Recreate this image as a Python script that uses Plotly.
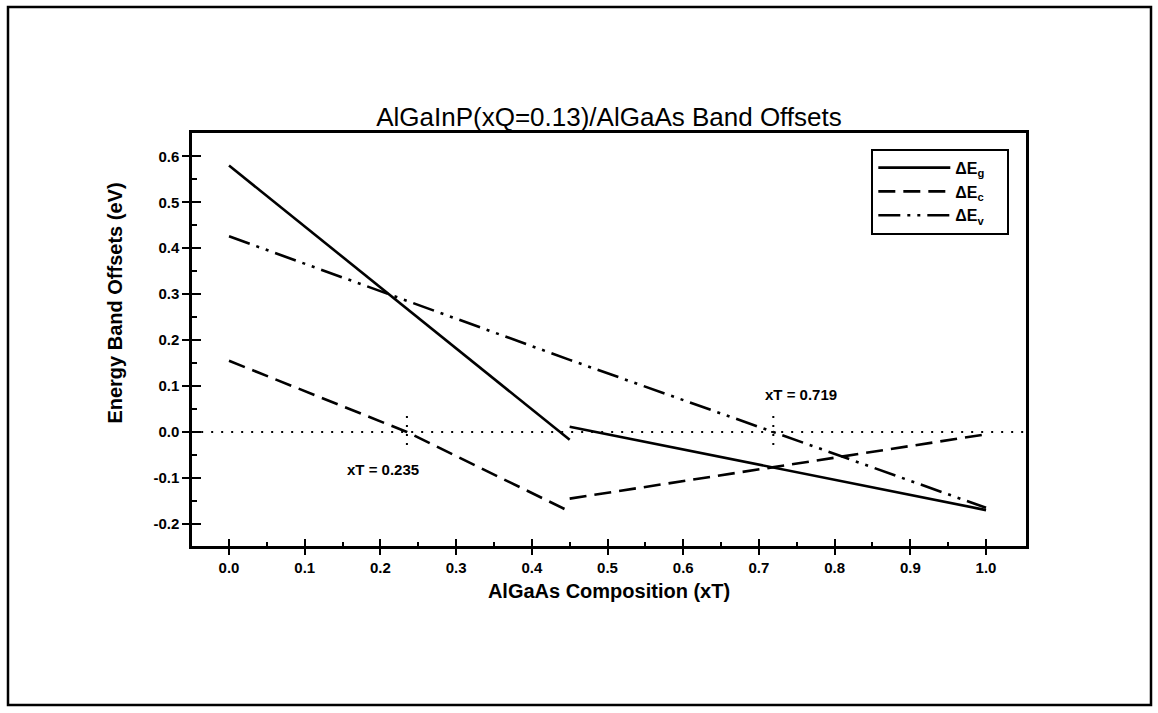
import plotly.graph_objects as go

# AlGaAs composition (xT) and band offsets (eV) on either side of the
# direct/indirect crossover at xT = 0.45
xt_direct = [0.0, 0.45]
xt_indirect = [0.45, 1.0]
eg_direct = [0.58, -0.017]
eg_indirect = [0.0115, -0.17]
ec_direct_x = [0.0, 0.235, 0.45]
ec_direct = [0.155, 0.0, -0.173]
ec_indirect = [-0.145, -0.005]
ev_x = [0.0, 0.45, 0.719, 1.0]
ev_vals = [0.426, 0.157, 0.0, -0.165]

zero_y = [0.0, 0.0]
cross_points = [0.235, 0.719]
cross_labels = ["xT = 0.235", "xT = 0.719"]

x_ticks = [round(0.1 * i, 1) for i in range(11)]
y_ticks = [round(-0.2 + 0.1 * i, 1) for i in range(9)]

FONT = "Liberation Sans, Arial, sans-serif"
INK = "black"
PAD = "&nbsp;" * 4

fig = go.Figure()

# reference zero line
fig.add_trace(go.Scatter(x=[-0.05, 1.06], y=zero_y, mode="lines",
                         line=dict(color=INK, width=2.2, dash="2px,8px"),
                         showlegend=False, hoverinfo="skip"))

# short dotted markers at the zero crossings
for xc in cross_points:
    fig.add_trace(go.Scatter(x=[xc, xc], y=[0.035, -0.035], mode="lines",
                             line=dict(color=INK, width=2, dash="2px,7px"),
                             showlegend=False, hoverinfo="skip"))

solid = dict(color=INK, width=2.6)
dashed = dict(color=INK, width=2.6, dash="17px,8px")
dashdot = dict(color=INK, width=2.6, dash="22px,7px,3px,7px,3px,7px")

fig.add_trace(go.Scatter(x=xt_direct, y=eg_direct, mode="lines", line=solid,
                         name=f"<b>ΔE<sub>g</sub></b>{PAD}", legendgroup="g"))
fig.add_trace(go.Scatter(x=xt_indirect, y=eg_indirect, mode="lines", line=solid,
                         showlegend=False, legendgroup="g"))
fig.add_trace(go.Scatter(x=ec_direct_x, y=ec_direct, mode="lines", line=dashed,
                         name=f"<b>ΔE<sub>c</sub></b>{PAD}", legendgroup="c"))
fig.add_trace(go.Scatter(x=xt_indirect, y=ec_indirect, mode="lines", line=dashed,
                         showlegend=False, legendgroup="c"))
fig.add_trace(go.Scatter(x=ev_x, y=ev_vals, mode="lines", line=dashdot,
                         name=f"<b>ΔE<sub>v</sub></b>{PAD}", legendgroup="v"))

# tick-only companion axes so that major ticks cross the frame
fig.add_trace(go.Scatter(x=[None], y=[None], xaxis="x2", yaxis="y2",
                         showlegend=False, hoverinfo="skip"))

X_RANGE = [-0.0489, 1.0528]
Y_RANGE = [-0.2481, 0.6507]

tickfont = dict(family=FONT, size=15, color=INK)

fig.update_layout(
    width=1158, height=713,
    margin=dict(l=192, r=132, t=133, b=167),
    paper_bgcolor="white", plot_bgcolor="white",
    font=dict(family=FONT, color=INK),
    title=dict(text="AlGaInP(xQ=0.13)/AlGaAs Band Offsets",
               font=dict(family=FONT, size=26, color=INK),
               x=0.5, xref="paper", xanchor="center",
               y=1 - 117 / 713, yanchor="middle"),
    xaxis=dict(range=X_RANGE, tickvals=x_ticks,
               ticktext=[f"<b>{v:.1f}</b>" for v in x_ticks],
               ticks="outside", ticklen=6, tickwidth=2, tickcolor=INK,
               showline=True, linewidth=2.5, linecolor=INK, mirror=True,
               showgrid=False, zeroline=False, tickfont=tickfont,
               title=dict(text="<b>AlGaAs Composition (xT)</b>",
                          font=dict(family=FONT, size=20, color=INK),
                          standoff=10)),
    yaxis=dict(range=Y_RANGE, tickvals=y_ticks,
               ticktext=[f"<b>{v:.1f}</b>" for v in y_ticks],
               ticks="outside", ticklen=7, tickwidth=2, tickcolor=INK,
               showline=True, linewidth=2.5, linecolor=INK, mirror=True,
               showgrid=False, zeroline=False, tickfont=tickfont),
    xaxis2=dict(range=X_RANGE, overlaying="x", anchor="y2", side="bottom",
                tickvals=x_ticks, showticklabels=False,
                ticks="inside", ticklen=7, tickwidth=2, tickcolor=INK,
                minor=dict(ticks="inside", ticklen=4, tickwidth=2,
                           tickcolor=INK, tickvals=[round(v + 0.05, 2) for v in x_ticks[:-1]]),
                showline=False, showgrid=False, zeroline=False),
    yaxis2=dict(range=Y_RANGE, overlaying="y", anchor="x2", side="left",
                tickvals=y_ticks, showticklabels=False,
                ticks="inside", ticklen=9, tickwidth=2, tickcolor=INK,
                minor=dict(ticks="inside", ticklen=5, tickwidth=2,
                           tickcolor=INK, tickvals=[round(v + 0.05, 2) for v in y_ticks[:-1]]),
                showline=False, showgrid=False, zeroline=False),
    legend=dict(x=0.98, xanchor="right", y=0.962, yanchor="top",
                bgcolor="white", bordercolor=INK, borderwidth=2,
                font=dict(family=FONT, size=16, color=INK),
                tracegroupgap=0, itemwidth=72),
    showlegend=True,
)

# y-axis title, set a little above the plot's mid-height
fig.add_annotation(x=-0.092, y=0.28, xref="paper", yref="y",
                   text="<b>Energy Band Offsets (eV)</b>", textangle=-90,
                   showarrow=False, xanchor="center", yanchor="middle",
                   font=dict(family=FONT, size=20, color=INK))

for xc, label in zip(cross_points, cross_labels):
    below = xc < 0.5
    fig.add_annotation(x=xc, y=-0.082 if below else 0.082, xref="x", yref="y",
                       text=f"<b>{label}</b>", showarrow=False,
                       xanchor="right" if below else "left",
                       xshift=14 if below else -10,
                       font=dict(family=FONT, size=15, color=INK))

# outer page frame
fig.add_shape(type="rect", xref="paper", yref="paper",
              x0=(8 - 192) / 834, x1=(1151 - 192) / 834,
              y0=(546 - 705) / 413, y1=(546 - 7) / 413,
              line=dict(color=INK, width=2.5), layer="above")

fig.write_html("out.html")
